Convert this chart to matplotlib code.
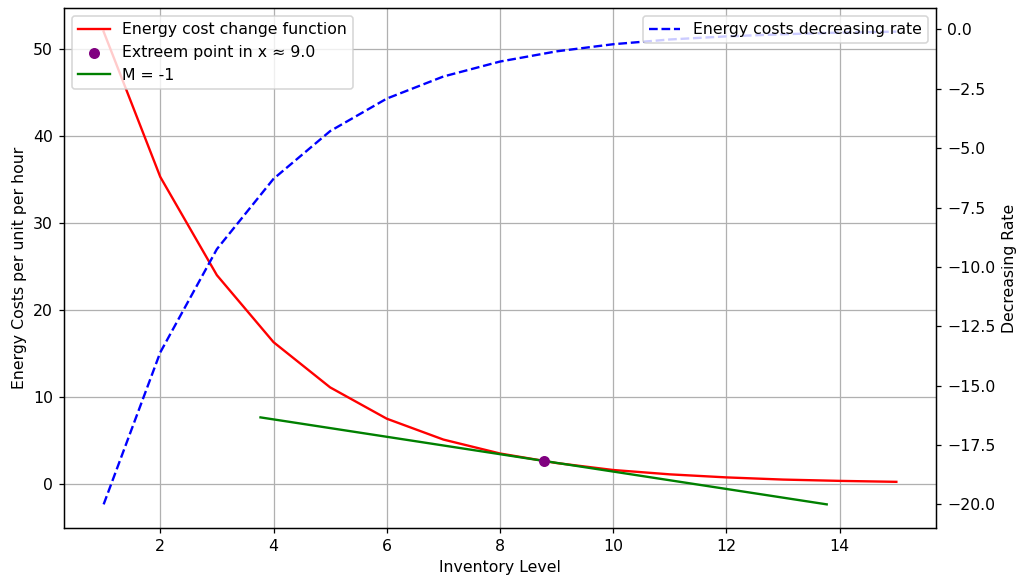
import matplotlib
matplotlib.use("Agg")
import matplotlib.pyplot as plt

inventory = [1, 2, 3, 4, 5, 6, 7, 8, 9, 10, 11, 12, 13, 14, 15]
energy_cost = [52.0, 35.3, 24.0, 16.3, 11.1, 7.5, 5.1, 3.5, 2.4, 1.6, 1.1, 0.75, 0.5, 0.35, 0.24]
decreasing_rate = [-20.0, -13.6, -9.25, -6.29, -4.28, -2.91, -1.98, -1.35, -0.92,
                   -0.62, -0.42, -0.29, -0.20, -0.13, -0.09]
extreme_x = [8.77]
extreme_y = [2.65]
tangent_x = [3.77, 13.77]
tangent_y = [7.65, -2.35]

DPI = 113
fig, ax1 = plt.subplots(figsize=(1020 / DPI, 581 / DPI), dpi=DPI)
ax1.plot(inventory, energy_cost, color='red', label='Energy cost change function')
ax1.scatter(extreme_x, extreme_y, color='purple', zorder=5, label='Extreem point in x ≈ 9.0')
ax1.plot(tangent_x, tangent_y, color='green', label='M = -1')
ax1.set_xlabel('Inventory Level')
ax1.set_ylabel('Energy Costs per unit per hour')
ax1.grid(True)
ax1.legend(loc='upper left')

ax2 = ax1.twinx()
ax2.plot(inventory, decreasing_rate, color='blue', linestyle='--', label='Energy costs decreasing rate')
ax2.set_ylabel('Decreasing Rate')
ax2.legend(loc='upper right')

fig.subplots_adjust(left=64 / 1020, right=936 / 1020, top=1 - 8 / 581, bottom=1 - 528 / 581)
fig.savefig('out.png', dpi=DPI)
